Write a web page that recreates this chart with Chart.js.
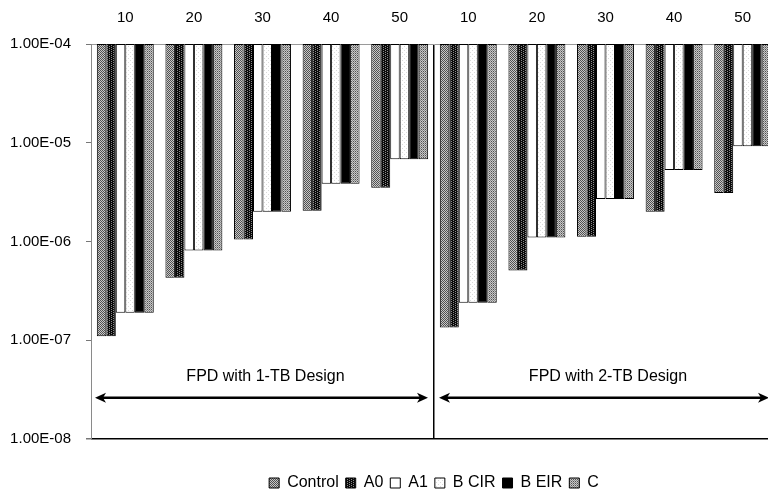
<!DOCTYPE html>
<html>
<head>
<meta charset="utf-8">
<title>FPD by design</title>
<script src="https://cdn.jsdelivr.net/npm/chart.js@4/dist/chart.umd.min.js"></script>
<style>
  html, body { margin: 0; padding: 0; background: #fff; overflow: hidden; }
  #wrap { position: relative; width: 777px; height: 498px; }
</style>
</head>
<body>
<div id="wrap"><canvas id="chart"></canvas></div>
<script>
// Operating points, 1-TB design (first five) then 2-TB design (last five)
const categories = ['10', '20', '30', '40', '50', '10', '20', '30', '40', '50'];
const seriesNames = ['Control', 'A0', 'A1', 'B CIR', 'B EIR', 'C'];

// FPD per scheme
const controlValues = [1.1e-7, 4.3e-7, 1.05e-6, 2.05e-6, 3.5e-6, 1.35e-7, 5.1e-7, 1.12e-6, 2.0e-6, 3.1e-6];
const a0Values      = [1.1e-7, 4.3e-7, 1.05e-6, 2.05e-6, 3.5e-6, 1.35e-7, 5.1e-7, 1.12e-6, 2.0e-6, 3.1e-6];
const a1Values      = [1.9e-7, 8.1e-7, 2.0e-6, 3.85e-6, 6.8e-6, 2.4e-7, 1.1e-6, 2.7e-6, 5.3e-6, 9.2e-6];
const bCirValues    = [1.9e-7, 8.1e-7, 2.0e-6, 3.85e-6, 6.8e-6, 2.4e-7, 1.1e-6, 2.7e-6, 5.3e-6, 9.2e-6];
const bEirValues    = [1.9e-7, 8.1e-7, 2.0e-6, 3.85e-6, 6.8e-6, 2.4e-7, 1.1e-6, 2.7e-6, 5.3e-6, 9.2e-6];
const cValues       = [1.9e-7, 8.1e-7, 2.0e-6, 3.85e-6, 6.8e-6, 2.4e-7, 1.1e-6, 2.7e-6, 5.3e-6, 9.2e-6];

const yTicks = [1e-4, 1e-5, 1e-6, 1e-7, 1e-8];
const designLabels = ['FPD with 1-TB Design', 'FPD with 2-TB Design'];
const AXIS_TOP = 1e-4;

Chart.defaults.font.family = "'Liberation Sans', Arial, Helvetica, sans-serif";
Chart.defaults.color = '#000';

// small repeating pixel textures for the greyscale fills
function texture(rows) {
  const h = rows.length, w = rows[0].length;
  const c = document.createElement('canvas');
  c.width = w; c.height = h;
  const g = c.getContext('2d');
  for (let j = 0; j < h; j++) {
    for (let i = 0; i < w; i++) {
      g.fillStyle = rows[j][i];
      g.fillRect(i, j, 1, 1);
    }
  }
  return g.createPattern(c, 'repeat');
}
const K = '#0a0a0a', D = '#505050', M = '#8a8a8a', L = '#c8c8c8', P = '#dadada', W = '#ffffff';
const fills = [
  texture([[D, L], [L, D]]),                                   // Control
  texture([[K, M, K, K], [K, K, K, M], [K, M, K, K], [K, K, K, M]]), // A0
  '#ffffff',                                                   // A1
  texture([[W, W, P, W], [W, W, W, W], [P, W, W, W], [W, W, W, W]]), // B CIR
  '#000000',                                                   // B EIR
  texture([[M, L], [L, D]])                                    // C
];

const seriesValues = [controlValues, a0Values, a1Values, bCirValues, bEirValues, cValues];

// bars hang from the top of the axis down to each value
const datasets = seriesNames.map((name, i) => ({
  label: name,
  data: seriesValues[i].map(v => [v, AXIS_TOP]),
  backgroundColor: fills[i],
  borderColor: '#000',
  borderWidth: 1,
  borderSkipped: false,
  xAxisID: 'x',
  yAxisID: 'y'
}));

function sci(v) {
  const e = Math.round(Math.log10(v));
  const m = v / Math.pow(10, e);
  return m.toFixed(2) + 'E' + (e < 0 ? '-' : '+') + String(Math.abs(e)).padStart(2, '0');
}

function drawArrow(ctx, x1, x2, y) {
  const hl = 11, hw = 5;
  ctx.save();
  ctx.strokeStyle = '#000';
  ctx.fillStyle = '#000';
  ctx.lineWidth = 2.5;
  ctx.beginPath();
  ctx.moveTo(x1 + hl - 3, y);
  ctx.lineTo(x2 - hl + 3, y);
  ctx.stroke();
  ctx.beginPath();
  ctx.moveTo(x1, y);
  ctx.lineTo(x1 + hl, y - hw);
  ctx.lineTo(x1 + hl - 3, y);
  ctx.lineTo(x1 + hl, y + hw);
  ctx.closePath();
  ctx.fill();
  ctx.beginPath();
  ctx.moveTo(x2, y);
  ctx.lineTo(x2 - hl, y - hw);
  ctx.lineTo(x2 - hl + 3, y);
  ctx.lineTo(x2 - hl, y + hw);
  ctx.closePath();
  ctx.fill();
  ctx.restore();
}

// design span labels with double-headed arrows
const designSpans = {
  id: 'designSpans',
  afterDatasetsDraw(chart) {
    const { ctx, chartArea: a, scales: { x, y } } = chart;
    const split = (x.getPixelForValue(4) + x.getPixelForValue(5)) / 2;
    const arrowY = y.getPixelForValue(2.62e-8);
    const textY = y.getPixelForValue(4.25e-8);
    const spans = [[a.left + 4, split - 6], [split + 5, a.right - 8]];
    const shifts = [4, 4];
    spans.forEach(([x1, x2], i) => {
      drawArrow(ctx, x1, x2, arrowY);
      ctx.save();
      ctx.font = "16px 'Liberation Sans', Arial, sans-serif";
      ctx.fillStyle = '#000';
      ctx.textAlign = 'center';
      ctx.textBaseline = 'middle';
      ctx.fillText(designLabels[i], (x1 + x2) / 2 + shifts[i], textY);
      ctx.restore();
    });
  }
};

new Chart(document.getElementById('chart'), {
  type: 'bar',
  data: { labels: categories, datasets },
  options: {
    responsive: true,
    maintainAspectRatio: false,
    animation: false,
    layout: { padding: { top: 0, left: 0, right: 0, bottom: -3 } },
    datasets: { bar: { categoryPercentage: 0.83, barPercentage: 1.0 } },
    plugins: {
      tooltip: { enabled: false },
      legend: {
        position: 'bottom',
        fullSize: false,
        labels: {
          boxWidth: 10,
          boxHeight: 10,
          padding: 7,
          font: { size: 16 },
          color: '#000'
        }
      }
    },
    scales: {
      x: {
        position: 'top',
        offset: true,
        grid: {
          offset: true,
          drawTicks: false,
          color: ctx => (ctx.index === 5 ? '#000' : 'rgba(0,0,0,0)'),
          lineWidth: 1.5
        },
        border: { color: '#9a9a9a', width: 1 },
        ticks: { font: { size: 15 }, color: '#000', padding: 17, maxRotation: 0, autoSkip: false },
        afterFit: s => { s.height = 44; }
      },
      x2: {
        type: 'category',
        labels: categories,
        position: 'bottom',
        grid: { display: false },
        border: { display: false },
        ticks: { display: false },
        afterFit: s => { s.height = 29; }
      },
      y: {
        type: 'logarithmic',
        min: 1e-8,
        max: 1e-4,
        afterBuildTicks: s => { s.ticks = yTicks.map(v => ({ value: v, major: true })); },
        afterFit: s => { s.width = 91; },
        ticks: { callback: v => sci(v), font: { size: 15 }, color: '#000', padding: 15 },
        grid: {
          color: ctx => (ctx.tick && ctx.tick.value === 1e-8 ? '#000' : 'rgba(0,0,0,0)'),
          lineWidth: ctx => (ctx.tick && ctx.tick.value === 1e-8 ? 1.5 : 1),
          tickLength: 5,
          tickColor: '#777'
        },
        border: { color: '#8a8a8a', width: 1 }
      }
    }
  },
  plugins: [designSpans]
});
</script>
</body>
</html>
